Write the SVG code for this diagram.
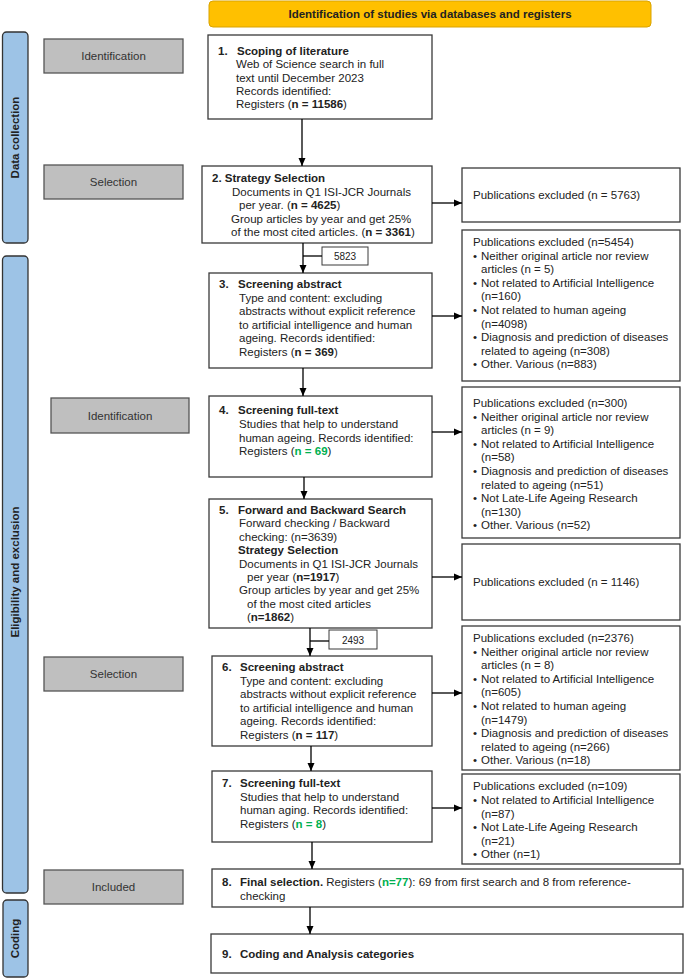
<svg xmlns="http://www.w3.org/2000/svg" width="685" height="979" viewBox="0 0 685 979">
<defs>
<style>
.box{fill:#fff;stroke:#3a3a3a;stroke-width:1.3}
.gray{fill:#bfbfbf;stroke:#555;stroke-width:1.3}
.side{fill:#9dc3e6;stroke:#333;stroke-width:1.3}
.hdr{fill:#ffc000;stroke:#d9a300;stroke-width:1}
text{font-family:'Liberation Sans',Arial,sans-serif;font-size:11.5px;fill:#222}
.b{font-weight:bold}
.g{fill:#00b050;font-weight:bold}
.gl{fill:#333}
.sm{font-size:10px}
.c{text-anchor:middle}
#connectors line{stroke:#000;stroke-width:1.3}
</style>
<marker id="ah" markerUnits="userSpaceOnUse" markerWidth="8" markerHeight="8" refX="8" refY="4" orient="auto">
<path d="M0,0.5 L8,4 L0,7.5 z" fill="#000"/>
</marker>
</defs>
<rect width="685" height="979" fill="#fff"/>

<g id="header">
<rect class="hdr" x="209" y="1" width="442" height="26" rx="4"/>
<text class="b c" x="430" y="18">Identification of studies via databases and registers</text>
</g>

<g id="side-data">
<rect class="side" x="2.5" y="32" width="25.5" height="211" rx="4"/>
<text class="b c" transform="translate(19,137.5) rotate(-90)">Data collection</text>
</g>
<g id="side-elig">
<rect class="side" x="2.5" y="256" width="25.5" height="637" rx="4"/>
<text class="b c" transform="translate(19,572) rotate(-90)">Eligibility and exclusion</text>
</g>
<g id="side-coding">
<rect class="side" x="3" y="900" width="25" height="77" rx="4"/>
<text class="b c" transform="translate(19,938.5) rotate(-90)">Coding</text>
</g>

<g id="lbl-ident1"><rect class="gray" x="44" y="39" width="139" height="34"/><text class="c gl" x="113.5" y="60">Identification</text></g>
<g id="lbl-sel1"><rect class="gray" x="44" y="165" width="139" height="34"/><text class="c gl" x="113.5" y="186">Selection</text></g>
<g id="lbl-ident2"><rect class="gray" x="51" y="398" width="138" height="35"/><text class="c gl" x="120" y="420">Identification</text></g>
<g id="lbl-sel2"><rect class="gray" x="44" y="657" width="139" height="34"/><text class="c gl" x="113.5" y="678">Selection</text></g>
<g id="lbl-incl"><rect class="gray" x="44" y="870" width="139" height="34"/><text class="c gl" x="113.5" y="891">Included</text></g>

<g id="box1">
<rect class="box" x="208" y="35" width="224" height="84"/>
<text class="b" x="218" y="55">1.</text><text class="b" x="237" y="55">Scoping of literature</text>
<text x="236" y="68.3">Web of Science search in full</text>
<text x="236" y="81.6">text until December 2023</text>
<text x="236" y="95">Records identified:</text>
<text x="236" y="108.3">Registers (<tspan class="b">n = 11586</tspan>)</text>
</g>

<g id="box2">
<rect class="box" x="202" y="166" width="230" height="77"/>
<text class="b" x="212" y="182">2. Strategy Selection</text>
<text x="232" y="195.5">Documents in Q1 ISI-JCR Journals</text>
<text x="239" y="209">per year.  (<tspan class="b">n = 4625</tspan>)</text>
<text x="231" y="222.5">Group articles by year and get 25%</text>
<text x="231" y="236">of the most cited articles. (<tspan class="b">n = 3361</tspan>)</text>
</g>

<g id="excl1">
<rect class="box" x="462" y="168" width="218" height="54"/>
<text x="473" y="199">Publications excluded (n = 5763)</text>
</g>

<g id="lbl5823">
<rect class="box" x="322" y="247" width="46" height="18" style="stroke-width:1"/>
<text class="c sm" x="345" y="260">5823</text>
</g>

<g id="excl2">
<rect class="box" x="462" y="230" width="218" height="151"/>
<text x="473" y="246">Publications excluded (n=5454)</text>
<text x="473" y="259.6">•</text><text x="481" y="259.6">Neither original article nor review</text>
<text x="481" y="273.2">articles  (n = 5)</text>
<text x="473" y="286.8">•</text><text x="481" y="286.8">Not related to Artificial Intelligence</text>
<text x="481" y="300.4">(n=160)</text>
<text x="473" y="314">•</text><text x="481" y="314">Not related to human ageing</text>
<text x="481" y="327.6">(n=4098)</text>
<text x="473" y="341.2">•</text><text x="481" y="341.2">Diagnosis and prediction of diseases</text>
<text x="481" y="354.8">related to ageing (n=308)</text>
<text x="473" y="368.4">•</text><text x="481" y="368.4">Other. Various (n=883)</text>
</g>

<g id="box3">
<rect class="box" x="209" y="273" width="223" height="95"/>
<text class="b" x="219" y="288">3.</text><text class="b" x="238" y="288">Screening abstract</text>
<text x="239" y="301.6">Type and content: excluding</text>
<text x="239" y="315.2">abstracts without explicit reference</text>
<text x="239" y="328.8">to artificial intelligence and human</text>
<text x="239" y="342.4">ageing. Records identified:</text>
<text x="239" y="356">Registers (<tspan class="b">n = 369</tspan>)</text>
</g>

<g id="box4">
<rect class="box" x="209" y="396" width="223" height="81"/>
<text class="b" x="219" y="414">4.</text><text class="b" x="238" y="414">Screening full-text</text>
<text x="239" y="428">Studies that help to understand</text>
<text x="239" y="441.5">human ageing. Records identified:</text>
<text x="239" y="455">Registers (<tspan class="g">n = 69</tspan>)</text>
</g>

<g id="excl3">
<rect class="box" x="462" y="387" width="218" height="151"/>
<text x="473" y="407">Publications excluded (n=300)</text>
<text x="473" y="420.6">•</text><text x="481" y="420.6">Neither original article nor review</text>
<text x="481" y="434.2">articles (n = 9)</text>
<text x="473" y="447.8">•</text><text x="481" y="447.8">Not related to Artificial Intelligence</text>
<text x="481" y="461.4">(n=58)</text>
<text x="473" y="475">•</text><text x="481" y="475">Diagnosis and prediction of diseases</text>
<text x="481" y="488.6">related to ageing (n=51)</text>
<text x="473" y="502.2">•</text><text x="481" y="502.2">Not Late-Life Ageing Research</text>
<text x="481" y="515.8">(n=130)</text>
<text x="473" y="529.4">•</text><text x="481" y="529.4">Other. Various (n=52)</text>
</g>

<g id="box5">
<rect class="box" x="209" y="499" width="223" height="129"/>
<text class="b" x="219" y="514">5.</text><text class="b" x="238" y="514">Forward and Backward Search</text>
<text x="239" y="527.4">Forward checking / Backward</text>
<text x="239" y="540.8">checking: (n=3639)</text>
<text class="b" x="238" y="554.2">Strategy Selection</text>
<text x="239" y="567.6">Documents in Q1 ISI-JCR Journals</text>
<text x="247" y="581">per year  (<tspan class="b">n=1917</tspan>)</text>
<text x="239" y="594.4">Group articles by year and get 25%</text>
<text x="247" y="607.8">of the most cited articles</text>
<text x="247" y="621.2">(<tspan class="b">n=1862</tspan>)</text>
</g>

<g id="excl4">
<rect class="box" x="462" y="544" width="218" height="76"/>
<text x="473" y="586">Publications excluded (n = 1146)</text>
</g>

<g id="lbl2493">
<rect class="box" x="329" y="630" width="48" height="19" style="stroke-width:1"/>
<text class="c sm" x="353" y="644">2493</text>
</g>

<g id="excl5">
<rect class="box" x="462" y="626" width="218" height="144"/>
<text x="473" y="642">Publications excluded (n=2376)</text>
<text x="473" y="655.6">•</text><text x="481" y="655.6">Neither original article nor review</text>
<text x="481" y="669.2">articles (n = 8)</text>
<text x="473" y="682.8">•</text><text x="481" y="682.8">Not related to Artificial Intelligence</text>
<text x="481" y="696.4">(n=605)</text>
<text x="473" y="710">•</text><text x="481" y="710">Not related to human ageing</text>
<text x="481" y="723.6">(n=1479)</text>
<text x="473" y="737.2">•</text><text x="481" y="737.2">Diagnosis and prediction of diseases</text>
<text x="481" y="750.8">related to ageing (n=266)</text>
<text x="473" y="764.4">•</text><text x="481" y="764.4">Other. Various (n=18)</text>
</g>

<g id="box6">
<rect class="box" x="212" y="656" width="220" height="90"/>
<text class="b" x="222" y="671">6.</text><text class="b" x="240" y="671">Screening abstract</text>
<text x="240" y="684.5">Type and content: excluding</text>
<text x="240" y="698">abstracts without explicit reference</text>
<text x="240" y="711.5">to artificial intelligence and human</text>
<text x="240" y="725">ageing. Records identified:</text>
<text x="240" y="738.5">Registers (<tspan class="b">n = 117</tspan>)</text>
</g>

<g id="box7">
<rect class="box" x="212" y="771" width="220" height="71"/>
<text class="b" x="222" y="787">7.</text><text class="b" x="240" y="787">Screening full-text</text>
<text x="240" y="800.5">Studies that help to understand</text>
<text x="240" y="814">human aging.  Records identified:</text>
<text x="240" y="827.5">Registers (<tspan class="g">n = 8</tspan>)</text>
</g>

<g id="excl6">
<rect class="box" x="462" y="774" width="218" height="90"/>
<text x="473" y="790">Publications excluded (n=109)</text>
<text x="473" y="804">•</text><text x="481" y="804">Not related to Artificial Intelligence</text>
<text x="481" y="817.6">(n=87)</text>
<text x="473" y="831.2">•</text><text x="481" y="831.2">Not Late-Life Ageing Research</text>
<text x="481" y="844.8">(n=21)</text>
<text x="473" y="858.4">•</text><text x="481" y="858.4">Other (n=1)</text>
</g>

<g id="box8">
<rect class="box" x="212" y="869" width="471" height="38"/>
<text class="b" x="222" y="886">8.</text><text x="240" y="886"><tspan class="b">Final selection.</tspan> Registers (<tspan class="g">n=77</tspan>): 69 from first search and 8 from reference-</text>
<text x="240" y="899.5">checking</text>
</g>

<g id="box9">
<rect class="box" x="211" y="934" width="472" height="39"/>
<text class="b" x="222" y="958">9.</text><text class="b" x="240" y="958">Coding and Analysis categories</text>
</g>

<g id="connectors">
<line x1="302" y1="119" x2="302" y2="166" marker-end="url(#ah)"/>
<line x1="303" y1="243" x2="303" y2="273" marker-end="url(#ah)"/>
<line x1="303" y1="256" x2="322" y2="256"/>
<line x1="303" y1="368" x2="303" y2="396" marker-end="url(#ah)"/>
<line x1="304" y1="477" x2="304" y2="499" marker-end="url(#ah)"/>
<line x1="310" y1="628" x2="310" y2="656" marker-end="url(#ah)"/>
<line x1="310" y1="641" x2="329" y2="641"/>
<line x1="311" y1="746" x2="311" y2="771" marker-end="url(#ah)"/>
<line x1="312" y1="842" x2="312" y2="869" marker-end="url(#ah)"/>
<line x1="310" y1="907" x2="310" y2="934" marker-end="url(#ah)"/>
<line x1="432" y1="203" x2="462" y2="203" marker-end="url(#ah)"/>
<line x1="432" y1="316" x2="462" y2="316" marker-end="url(#ah)"/>
<line x1="432" y1="432" x2="462" y2="432" marker-end="url(#ah)"/>
<line x1="432" y1="577" x2="462" y2="577" marker-end="url(#ah)"/>
<line x1="432" y1="693" x2="462" y2="693" marker-end="url(#ah)"/>
<line x1="432" y1="808" x2="462" y2="808" marker-end="url(#ah)"/>
</g>
</svg>
